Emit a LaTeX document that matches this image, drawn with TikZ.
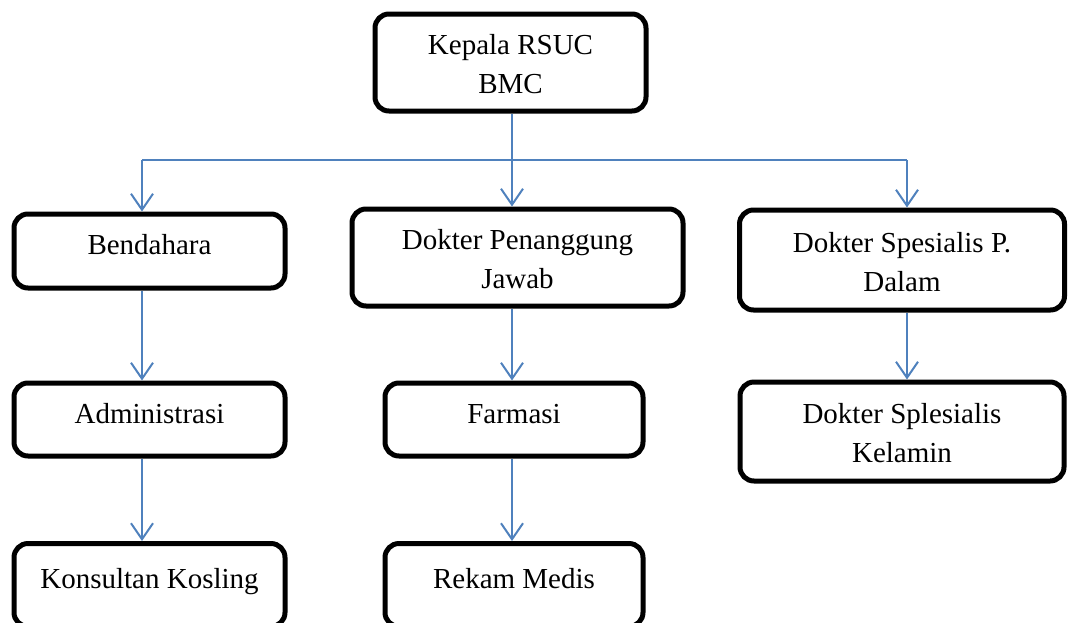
\documentclass[tikz,border=0pt]{standalone}
\usepackage{fontspec}
\setmainfont{Liberation Serif}
\usetikzlibrary{arrows.meta}
\definecolor{lineblue}{HTML}{4F81BD}

\begin{document}
\begin{tikzpicture}[x=1pt, y=-1pt]
\tikzset{
    block/.style={rectangle, draw, line width=5pt, rounded corners=14pt, align=center,
        font=\fontsize{29}{39}\selectfont, inner sep=0pt},
    single/.style={block, text height=20pt, text depth=13pt},
    double/.style={block, text height=62pt, text depth=0pt},
    arr/.style={draw=lineblue, line width=2pt, -{Straight Barb[length=16pt, width=22pt, line width=2pt]}},
    conn/.style={draw=lineblue, line width=2pt}
}
  \clip (0,0) rectangle (1070,622);

  \node[double, minimum width=271, minimum height=97] (boss) at (510.5,62.5) {Kepala RSUC\\BMC};
  \node[single, minimum width=271, minimum height=74] (bend) at (149.5,251) {Bendahara};
  \node[double, minimum width=331, minimum height=97] (dpj) at (517.5,257.5) {Dokter Penanggung\\Jawab};
  \node[double, minimum width=325, minimum height=100] (dsp) at (902,260) {Dokter Spesialis P.\\Dalam};
  \node[single, minimum width=271, minimum height=73] (adm) at (149.5,419.5) {Administrasi};
  \node[single, minimum width=258, minimum height=73] (farm) at (514,419.5) {Farmasi};
  \node[double, minimum width=324, minimum height=99] (kel) at (902,431.5) {Dokter Splesialis\\Kelamin};
  \node[single, minimum width=271, minimum height=83] (kons) at (149.5,585) {Konsultan Kosling};
  \node[single, minimum width=258, minimum height=83] (rek) at (514,585) {Rekam Medis};

  % cabang dari kepala
  \coordinate (jl) at (142,160);
  \coordinate (jm) at (512,160);
  \coordinate (jr) at (907,160);
  \draw[conn] (boss.south -| jm) -- (jm);
  \draw[conn] (jl) -- (jr);
  \draw[arr] (jl) -- (jl |- bend.north);
  \draw[arr] (jm) -- (jm |- dpj.north);
  \draw[arr] (jr) -- (jr |- dsp.north);

  % turunan
  \draw[arr] (bend.south -| jl) -- (adm.north -| jl);
  \draw[arr] (adm.south -| jl) -- (kons.north -| jl);
  \draw[arr] (dpj.south -| jm) -- (farm.north -| jm);
  \draw[arr] (farm.south -| jm) -- (rek.north -| jm);
  \draw[arr] (dsp.south -| jr) -- (kel.north -| jr);
\end{tikzpicture}
\end{document}
